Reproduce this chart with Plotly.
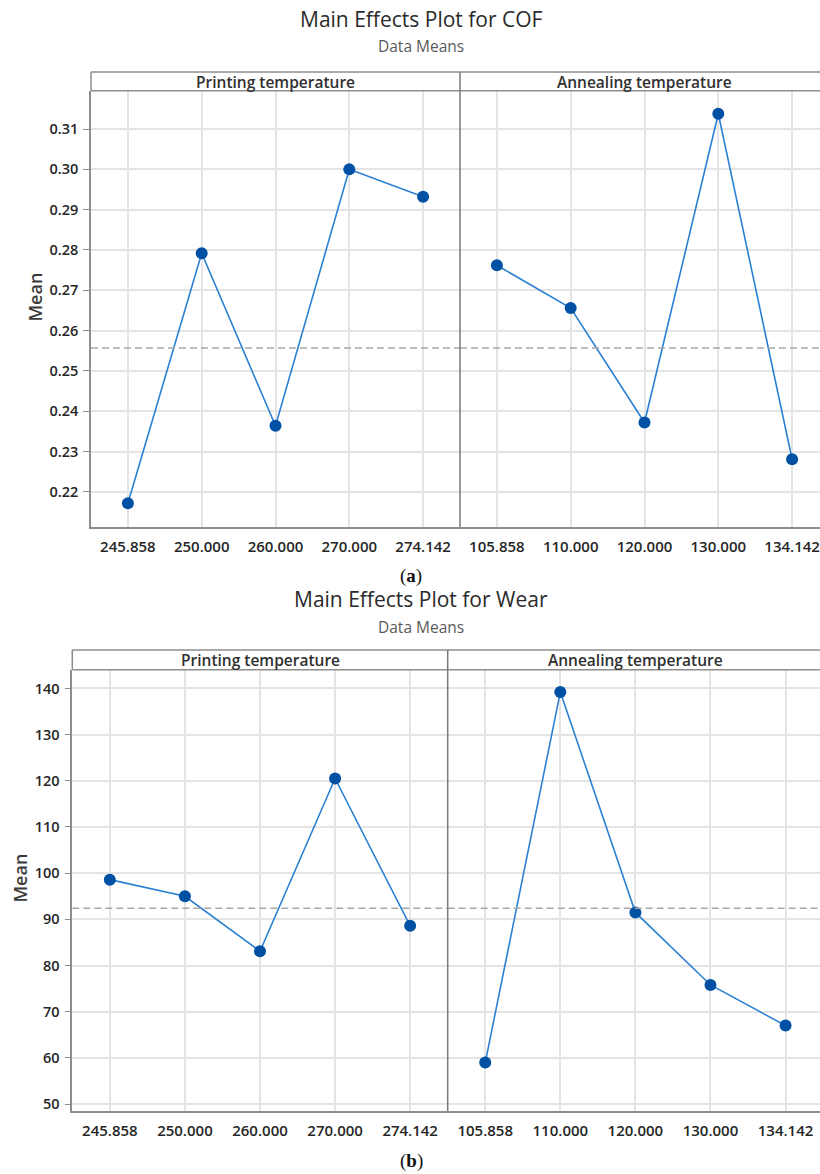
import plotly.graph_objects as go

# ---- data -------------------------------------------------------------
print_temp = ["245.858", "250.000", "260.000", "270.000", "274.142"]
anneal_temp = ["105.858", "110.000", "120.000", "130.000", "134.142"]

cof_print = [0.2172, 0.2792, 0.2364, 0.3000, 0.2932]
cof_anneal = [0.2762, 0.2656, 0.2372, 0.3138, 0.2281]
cof_mean = 0.2557
cof_ticks = [0.22, 0.23, 0.24, 0.25, 0.26, 0.27, 0.28, 0.29, 0.30, 0.31]

wear_print = [98.6, 95.0, 83.1, 120.5, 88.6]
wear_anneal = [59.0, 139.2, 91.5, 75.8, 67.0]
wear_mean = 92.4
wear_ticks = [50, 60, 70, 80, 90, 100, 110, 120, 130, 140]

panel_titles = ["Printing temperature", "Annealing temperature"]

# ---- page geometry (pixels) -------------------------------------------
W, H = 820, 1174


def fx(px):
    return px / W


def fy(py):
    return 1 - py / H


LINE = "#2b80d3"
MARK = "#0050a3"
FRAME = "#8e8e8e"
GRID = "#e4e4e4"
FONT = "Open Sans"

fig = go.Figure()

blocks = [
    dict(  # COF block
        left=91, div=460, right=829, head_top=72, head_bot=91, bottom=528,
        yr=[0.21126, 0.31948], ticks=cof_ticks, fmt=".2f",
        series=[cof_print, cof_anneal], mean=cof_mean,
        title="Main Effects Plot for COF", title_y=19, sub_y=46,
        mean_label=(35, 298), cap="a", cap_y=577,
    ),
    dict(  # Wear block
        left=72.3, div=447.7, right=823.2, head_top=651, head_bot=671, bottom=1113,
        yr=[48.49, 144.02], ticks=wear_ticks, fmt="d",
        series=[wear_print, wear_anneal], mean=wear_mean,
        title="Main Effects Plot for Wear", title_y=600, sub_y=628,
        mean_label=(20, 880), cap="b", cap_y=1163,
    ),
]

layout_axes = {}
shapes = []
annotations = []
ax_i = 0
for b in blocks:
    spacing = (b["div"] - b["left"]) / 5.0
    right_vis = min(b["right"], W)
    right_span = (right_vis - b["div"]) / spacing
    panels = [
        (b["left"], b["div"], [-0.5, 4.5], print_temp),
        (b["div"], right_vis, [-0.5, -0.5 + right_span], anneal_temp),
    ]
    for p, (x0, x1, xr, cats) in enumerate(panels):
        ax_i += 1
        xn = "xaxis" if ax_i == 1 else f"xaxis{ax_i}"
        yn = "yaxis" if ax_i == 1 else f"yaxis{ax_i}"
        xa = "x" if ax_i == 1 else f"x{ax_i}"
        ya = "y" if ax_i == 1 else f"y{ax_i}"
        fig.add_trace(go.Scatter(
            x=cats, y=b["series"][p], mode="lines+markers",
            line=dict(color=LINE, width=1.6),
            marker=dict(color=MARK, size=12, line=dict(width=0)),
            xaxis=xa, yaxis=ya, showlegend=False, cliponaxis=False,
        ))
        layout_axes[xn] = dict(
            domain=[fx(x0), fx(x1)], anchor=ya, type="category",
            categoryorder="array", categoryarray=cats, range=xr,
            showgrid=True, gridcolor=GRID, gridwidth=1.5,
            showline=True, linecolor=FRAME, linewidth=1.5,
            ticks="", tickfont=dict(family=FONT, size=15, color="#262626", weight=600),
            ticklabelstandoff=5, zeroline=False, fixedrange=True,
        )
        layout_axes[yn] = dict(
            domain=[fy(b["bottom"]), fy(b["head_bot"])], anchor=xa,
            range=b["yr"], tickvals=b["ticks"], tickformat=b["fmt"],
            showgrid=True, gridcolor=GRID, gridwidth=1.5, zeroline=False,
            showline=(p == 0), linecolor=FRAME, linewidth=1.5,
            ticks="outside" if p == 0 else "", ticklen=6, tickcolor=FRAME, tickwidth=1.3,
            showticklabels=(p == 0),
            tickfont=dict(family=FONT, size=14.5, color="#262626", weight=600),
            ticklabelstandoff=2, fixedrange=True,
        )
        # grand mean reference line
        shapes.append(dict(
            type="line", xref=f"{xa} domain", yref=ya, x0=0, x1=1,
            y0=b["mean"], y1=b["mean"],
            line=dict(color="#a8a8a8", width=1.5, dash="7px,4px"), layer="above",
        ))
        # panel header text
        annotations.append(dict(
            text=panel_titles[p], xref="paper", yref="paper",
            x=fx((x0 + (x1 if p == 0 else b["right"])) / 2),
            y=fy((b["head_top"] + b["head_bot"]) / 2 + 0.5),
            showarrow=False, xanchor="center", yanchor="middle",
            font=dict(family=FONT, size=15.5, color="#303030", weight=600),
        ))
    # header band and frame
    for yy in (b["head_top"], b["head_bot"]):
        shapes.append(dict(type="line", xref="paper", yref="paper",
                           x0=fx(b["left"]), x1=1, y0=fy(yy), y1=fy(yy),
                           line=dict(color=FRAME, width=1.5)))
    shapes.append(dict(type="line", xref="paper", yref="paper",
                       x0=fx(b["left"]), x1=fx(b["left"]),
                       y0=fy(b["head_top"]), y1=fy(b["head_bot"]),
                       line=dict(color=FRAME, width=1.5)))
    shapes.append(dict(type="line", xref="paper", yref="paper",
                       x0=fx(b["div"]), x1=fx(b["div"]),
                       y0=fy(b["head_top"]), y1=fy(b["bottom"]),
                       line=dict(color="#7a7a7a", width=1.5)))
    # titles
    annotations.append(dict(
        text=b["title"], xref="paper", yref="paper", x=fx(421), y=fy(b["title_y"]),
        showarrow=False, xanchor="center", yanchor="middle",
        font=dict(family=FONT, size=21, color="#2a2a2a"),
    ))
    annotations.append(dict(
        text="Data Means", xref="paper", yref="paper", x=fx(421), y=fy(b["sub_y"]),
        showarrow=False, xanchor="center", yanchor="middle",
        font=dict(family=FONT, size=15.5, color="#5a5a5a"),
    ))
    annotations.append(dict(
        text="Mean", xref="paper", yref="paper",
        x=fx(b["mean_label"][0]), y=fy(b["mean_label"][1]), textangle=-90,
        showarrow=False, xanchor="center", yanchor="middle",
        font=dict(family=FONT, size=18, color="#3a3a3a", weight=600),
    ))
    annotations.append(dict(
        text=f"(<b>{b['cap']}</b>)", xref="paper", yref="paper",
        x=fx(411), y=fy(b["cap_y"]),
        showarrow=False, xanchor="center", yanchor="middle",
        font=dict(family="Liberation Serif", size=19, color="#111111"),
    ))

fig.update_layout(
    width=W, height=H, margin=dict(l=0, r=0, t=0, b=0),
    paper_bgcolor="white", plot_bgcolor="white",
    shapes=shapes, annotations=annotations, **layout_axes,
)

fig.write_html("out.html")
